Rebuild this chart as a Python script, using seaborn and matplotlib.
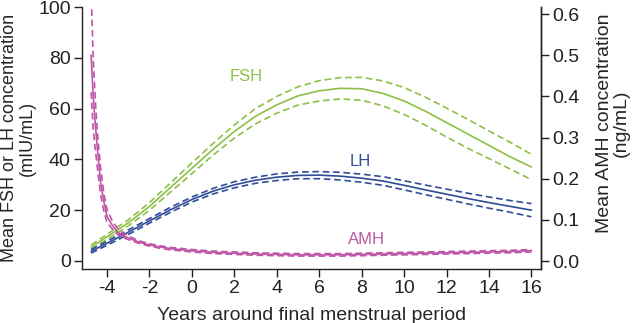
import pandas as pd
import matplotlib
matplotlib.use("Agg")
import matplotlib.pyplot as plt
import seaborn as sns

# years around FMP for FSH / LH
years = [-4.75, -4, -3, -2, -1, 0, 1, 2, 3, 4, 5, 6, 7, 8, 9, 10, 11, 12, 13, 14, 15, 16]

fsh = [5.5, 9.5, 15.0, 21.5, 29.0, 36.5, 44.0, 51.0, 57.0, 61.5, 65.0, 67.0, 68.0, 67.8, 66.0,
       63.0, 59.0, 54.5, 50.0, 45.5, 41.0, 37.0]
fsh_hi = [6.3, 10.5, 16.2, 23.0, 30.8, 38.6, 46.3, 53.6, 60.0, 64.8, 68.6, 71.0, 72.2, 72.3, 70.9,
          68.3, 64.5, 60.2, 55.8, 51.2, 46.7, 42.0]
fsh_lo = [4.7, 8.5, 13.8, 20.0, 27.2, 34.4, 41.7, 48.4, 54.0, 58.2, 61.4, 63.0, 63.8, 63.3, 61.1,
          57.7, 53.5, 48.8, 44.4, 40.3, 36.2, 32.0]

lh = [3.8, 7.0, 11.3, 15.8, 20.2, 24.2, 27.5, 30.0, 31.8, 33.0, 33.7, 33.8, 33.4, 32.6, 31.5,
      29.8, 28.0, 26.3, 24.6, 23.0, 21.5, 20.0]
lh_hi = [4.5, 7.8, 12.2, 16.7, 21.2, 25.2, 28.6, 31.2, 33.0, 34.3, 35.0, 35.2, 34.9, 34.2, 33.2,
         31.6, 29.9, 28.3, 26.7, 25.2, 23.8, 22.6]
lh_lo = [3.1, 6.2, 10.4, 14.9, 19.2, 23.2, 26.4, 28.8, 30.6, 31.7, 32.4, 32.4, 31.9, 31.0, 29.8,
         28.0, 26.1, 24.3, 22.5, 20.8, 19.2, 17.4]

# AMH (right axis, ng/mL)
amh_years = [-4.75, -4.65, -4.55, -4.45, -4.3, -4.15, -4, -3.75, -3.5, -3.25, -3, -2.5, -2, -1.5,
             -1, 0, 1, 2, 3, 4, 5, 6, 7, 8, 9, 10, 11, 12, 13, 14, 15, 16]
amh = [0.50, 0.40, 0.33, 0.27, 0.19, 0.145, 0.108, 0.087, 0.070, 0.062, 0.056, 0.046, 0.039, 0.034,
       0.030, 0.025, 0.021, 0.019, 0.017, 0.016, 0.015, 0.015, 0.015, 0.016, 0.017, 0.018, 0.019,
       0.020, 0.021, 0.022, 0.023, 0.025]
amh_hi = [0.66, 0.49, 0.39, 0.31, 0.225, 0.165, 0.125, 0.097, 0.079, 0.068, 0.061, 0.049, 0.042,
          0.037, 0.033, 0.028, 0.024, 0.022, 0.020, 0.019, 0.018, 0.018, 0.018, 0.019, 0.020,
          0.021, 0.022, 0.023, 0.024, 0.025, 0.026, 0.028]
amh_lo = [0.41, 0.32, 0.27, 0.225, 0.16, 0.122, 0.093, 0.078, 0.064, 0.057, 0.052, 0.043, 0.036,
          0.031, 0.027, 0.022, 0.018, 0.016, 0.014, 0.013, 0.012, 0.012, 0.012, 0.013, 0.014,
          0.015, 0.016, 0.017, 0.018, 0.019, 0.020, 0.022]

x_ticks = list(range(-4, 17, 2))

green = "#8cc046"
blue = "#2f4d96"
pink = "#be55a6"

sns.set_style("ticks")
plt.rcParams["font.family"] = ["Liberation Sans", "DejaVu Sans"]
plt.rcParams["axes.unicode_minus"] = False

df = pd.DataFrame({"x": years, "fsh": fsh, "fsh_hi": fsh_hi, "fsh_lo": fsh_lo,
                   "lh": lh, "lh_hi": lh_hi, "lh_lo": lh_lo})
df_amh = pd.DataFrame({"x": amh_years, "amh": amh, "amh_hi": amh_hi, "amh_lo": amh_lo})

fig = plt.figure(figsize=(6.32, 3.23), dpi=100)
ax = fig.add_axes([0.1297, 0.1672, 0.7263, 0.8111])
ax2 = ax.twinx()

dash = (4, 2.2)
lw = 1.2
sns.lineplot(data=df, x="x", y="fsh", ax=ax, color=green, lw=lw)
sns.lineplot(data=df, x="x", y="fsh_hi", ax=ax, color=green, lw=lw).lines[-1].set_dashes(dash)
sns.lineplot(data=df, x="x", y="fsh_lo", ax=ax, color=green, lw=lw).lines[-1].set_dashes(dash)
sns.lineplot(data=df, x="x", y="lh", ax=ax, color=blue, lw=lw)
sns.lineplot(data=df, x="x", y="lh_hi", ax=ax, color=blue, lw=lw).lines[-1].set_dashes(dash)
sns.lineplot(data=df, x="x", y="lh_lo", ax=ax, color=blue, lw=lw).lines[-1].set_dashes(dash)

sns.lineplot(data=df_amh, x="x", y="amh", ax=ax2, color=pink, lw=lw)
sns.lineplot(data=df_amh, x="x", y="amh_hi", ax=ax2, color=pink, lw=lw).lines[-1].set_dashes(dash)
sns.lineplot(data=df_amh, x="x", y="amh_lo", ax=ax2, color=pink, lw=lw).lines[-1].set_dashes(dash)

ax.set_xlim(-5.18, 16.45)
ax.set_ylim(-3.15, 100)
ax2.set_ylim(-0.0194, 0.617)
ax.set_xticks(x_ticks)
ax.set_yticks(range(0, 101, 20))
ax2.set_yticks([0.0, 0.1, 0.2, 0.3, 0.4, 0.5, 0.6])
ax2.set_yticklabels(["0.0", "0.1", "0.2", "0.3", "0.4", "0.5", "0.6"])

for a in (ax, ax2):
    a.spines["top"].set_visible(False)
    for s in a.spines.values():
        s.set_linewidth(1.0)
        s.set_color("#222222")
    a.tick_params(direction="out", length=6, width=1.0, labelsize=14, colors="#222222", pad=2)
ax2.spines["right"].set_visible(True)
ax2.spines["left"].set_visible(False)
ax2.spines["bottom"].set_visible(False)

ax.set_xlabel("Years around final menstrual period", fontsize=14, labelpad=7)
ax.set_ylabel("Mean FSH or LH concentration\n(mIU/mL)", fontsize=13, labelpad=2, linespacing=1.0)
ax2.set_ylabel("Mean AMH concentration\n(ng/mL)", fontsize=14, labelpad=12, linespacing=1.0)
ax.yaxis.label.set_y(0.5)
ax2.yaxis.label.set_y(0.555)

ax.text(2.54, 72.8, "FSH", color=green, fontsize=12, ha="center", va="center")
ax.text(7.95, 39.1, "LH", color=blue, fontsize=12, ha="center", va="center")
ax.text(8.22, 8.3, "AMH", color=pink, fontsize=12, ha="center", va="center")

fig.savefig("out.png", dpi=100)
